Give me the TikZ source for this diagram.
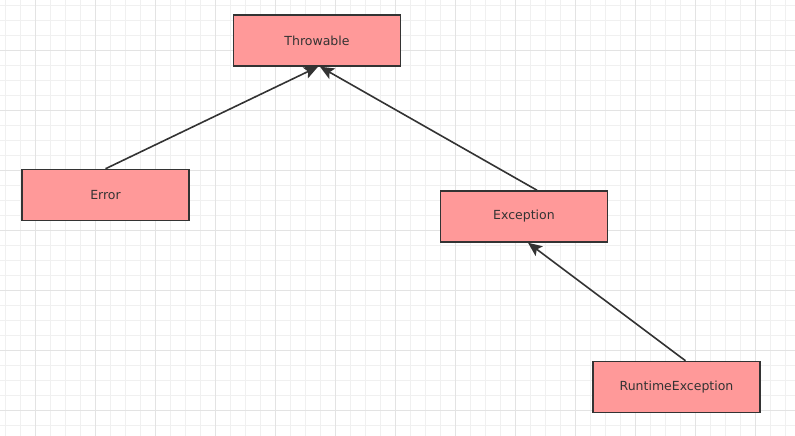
\documentclass[tikz,border=0pt]{standalone}
\usepackage{fontspec}
\setmainfont{DejaVu Sans}
\usetikzlibrary{arrows.meta}
\definecolor{boxfill}{HTML}{FF9999}
\definecolor{ink}{HTML}{333333}
\tikzset{
  classbox/.style={draw=ink,line width=1.5pt,fill=boxfill,minimum width=167pt,minimum height=51pt,
    text=ink,font=\fontsize{12.5}{14}\selectfont,inner sep=0pt},
  inherit/.style={draw=ink,line width=1.6pt,-{Stealth[length=14pt,width=12pt,inset=3pt]}}
}
\begin{document}
\begin{tikzpicture}[x=1pt,y=-1pt]
  \useasboundingbox[fill=white] (0,0) rectangle (795,436);
  % background grid
  \foreach \k in {0,...,52} {
    \draw[color=black!6,line width=0.8pt] (5.7+15*\k,0) -- (5.7+15*\k,436);
  }
  \foreach \k in {0,...,28} {
    \draw[color=black!6,line width=0.8pt] (0,5.7+15*\k) -- (795,5.7+15*\k);
  }
  \foreach \k in {0,...,12} {
    \draw[color=black!11,line width=0.8pt] (35.7+60*\k,0) -- (35.7+60*\k,436);
  }
  \foreach \k in {0,...,6} {
    \draw[color=black!11,line width=0.8pt] (0,50.7+60*\k) -- (795,50.7+60*\k);
  }
  % classes
  \node[classbox] (throwable) at (317,40.5) {Throwable};
  \node[classbox] (error) at (105.5,195) {Error};
  \node[classbox] (exception) at (524,216.5) {Exception};
  \node[classbox] (runtime) at (676.5,387) {RuntimeException};
  % inheritance arrows
  \draw[inherit] (error.north) -- ([xshift=1pt]throwable.south);
  \draw[inherit] ([xshift=13pt]exception.north) -- ([xshift=3pt]throwable.south);
  \draw[inherit] ([xshift=9pt]runtime.north) -- ([xshift=4pt]exception.south);
\end{tikzpicture}
\end{document}
